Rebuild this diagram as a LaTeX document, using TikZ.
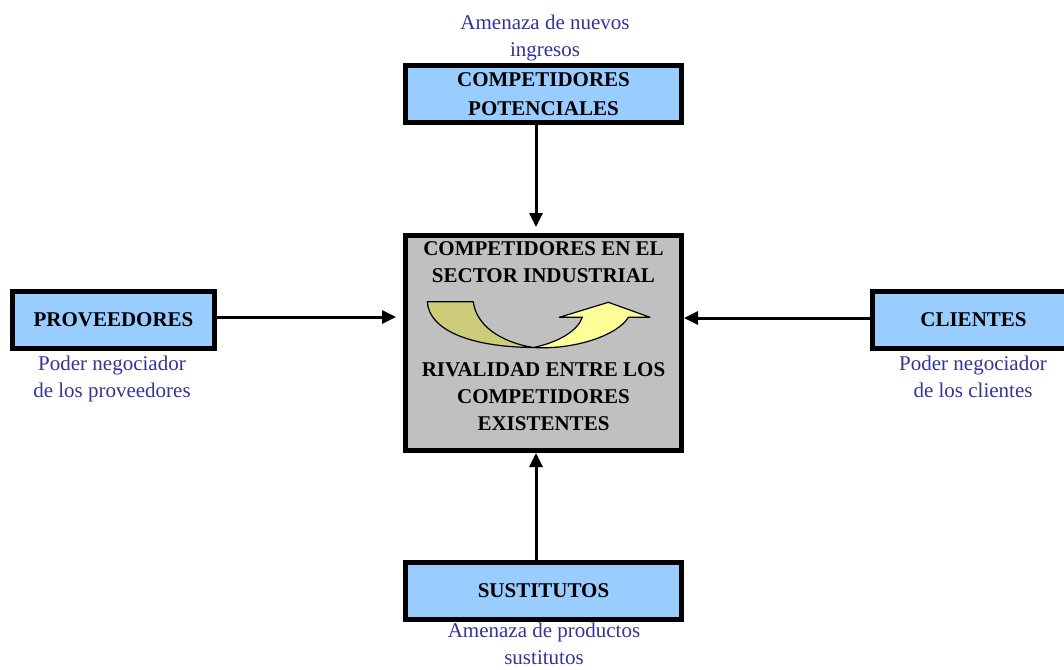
\documentclass[tikz,border=0pt]{standalone}
\usepackage{fontspec}
\setmainfont{Liberation Serif}
\usetikzlibrary{arrows.meta}
\definecolor{boxblue}{RGB}{153,204,255}
\definecolor{boxgray}{RGB}{192,192,192}
\definecolor{lblue}{RGB}{51,51,153}
\definecolor{olive}{RGB}{204,204,122}
\definecolor{lyellow}{RGB}{255,255,153}
\tikzset{
  forcebox/.style={draw=black, line width=5pt, fill=boxblue, minimum width=276pt, minimum height=57pt, inner sep=0pt, align=center, font=\fontsize{21}{29}\selectfont\bfseries},
  sidebox/.style={forcebox, minimum width=202pt},
  centerbox/.style={draw=black, line width=5pt, fill=boxgray, minimum width=276pt, minimum height=215pt, inner sep=0pt},
  boldtxt/.style={inner sep=0pt, align=center, font=\fontsize{21}{27}\selectfont\bfseries},
  lbl/.style={inner sep=0pt, align=center, text=lblue, font=\fontsize{21}{27}\selectfont},
  force/.style={line width=3pt, -{Triangle[length=14pt,width=13pt]}},
  curvepart/.style={draw=black, line width=1.2pt, line join=round}
}
\begin{document}
\begin{tikzpicture}[x=1pt,y=-1pt]
\useasboundingbox (0,0) rectangle (1064,669);
% boxes
\node[forcebox] (top) at (543.5,94) {COMPETIDORES\\POTENCIALES};
\node[centerbox] (mid) at (543.5,343) {};
\node[forcebox] (bot) at (543.5,591) {SUSTITUTOS};
\node[sidebox] (prov) at (113.5,320) {PROVEEDORES};
\node[sidebox] (cli) at (973.5,320) {CLIENTES};
% text inside the central box
\node[boldtxt] (mt1) at (543.5,262) {COMPETIDORES EN EL\\SECTOR INDUSTRIAL};
\node[boldtxt] (mt2) at (543.5,397) {RIVALIDAD ENTRE LOS\\COMPETIDORES\\EXISTENTES};
% curved arrow
\coordinate (cm) at (533.3,347.5);
\fill[olive] (427.3,301.7) -- (473.3,301.7) .. controls (476,325) and (500,342) .. (cm) .. controls (470,347) and (429,330) .. cycle;
\fill[lyellow] (cm) .. controls (575,350) and (618,335) .. (628.3,317.3) -- (650,317.3) -- (608.3,302.3) -- (559.3,317.3) -- (582.3,317.3) .. controls (578,330) and (560,342) .. cycle;
\draw[curvepart] (427.3,301.7) -- (473.3,301.7) .. controls (476,325) and (500,342) .. (cm) .. controls (470,347) and (429,330) .. cycle;
\draw[curvepart] (cm) .. controls (575,350) and (618,335) .. (628.3,317.3) -- (650,317.3) -- (608.3,302.3) -- (559.3,317.3) -- (582.3,317.3) .. controls (578,330) and (560,342) .. cycle;
% labels
\node[lbl] (ltop) at (545,38) {Amenaza de nuevos\\ingresos};
\node[lbl] (lprov) at (112,379) {Poder negociador\\de los proveedores};
\node[lbl] (lcli) at (973,377) {Poder negociador\\de los clientes};
\node[lbl] (lbot) at (544,644) {Amenaza de productos\\sustitutos};
% arrows
\draw[force, shorten >=6pt] ([xshift=-7.5pt]top.south) -- ([xshift=-7.5pt]mid.north);
\draw[force] ([xshift=-7.5pt]bot.north) -- ([xshift=-7.5pt]mid.south);
\draw[force, shorten >=7pt] ([yshift=3pt]prov.east) -- ([yshift=3pt]prov.east -| mid.west);
\draw[force] ([yshift=2pt]cli.west) -- ([yshift=2pt]cli.west -| mid.east);
\end{tikzpicture}
\end{document}
